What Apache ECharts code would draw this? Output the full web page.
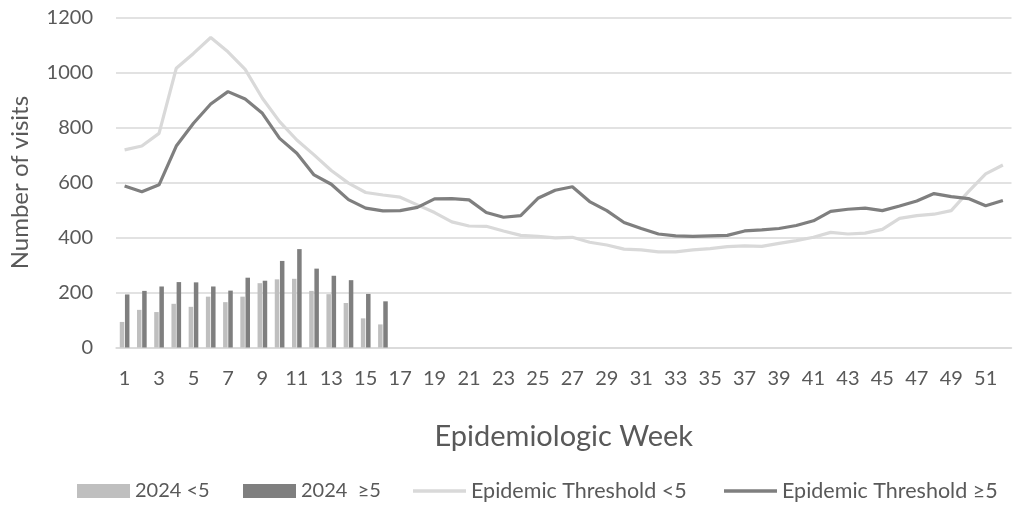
<!DOCTYPE html>
<html>
<head>
<meta charset="utf-8">
<script src="https://cdn.jsdelivr.net/npm/echarts@6/dist/echarts.min.js"></script>
<style>html,body{margin:0;padding:0;background:#fff}#c{width:1030px;height:506px}</style>
</head>
<body>
<div id="c"></div>
<script>
const weeks = Array.from({length: 52}, (_, i) => String(i + 1));
const bars2024Under5 = [93,137,129,159,148,185,165,185,234,248,250,206,194,162,106,84];
const bars2024Over5 = [193,206,222,238,237,222,207,254,243,315,358,287,261,245,195,168];
const thresholdUnder5 = [719,733,779,1016,1070,1128,1076,1012,907,822,755,701,644,598,564,555,547,519,491,457,442,441,424,408,404,399,401,383,373,358,355,348,348,355,360,367,370,368,379,389,401,419,413,416,430,470,480,485,498,567,632,664];
const thresholdOver5 = [588,567,592,733,816,886,931,904,852,761,707,628,594,538,507,497,498,510,541,542,537,491,474,480,543,572,585,531,498,455,433,413,406,404,406,408,424,428,433,444,461,495,503,507,498,515,533,560,549,542,516,535];
const names = ['2024 <5', '2024  ≥5', 'Epidemic Threshold <5', 'Epidemic Threshold ≥5'];

const FONT = 'Lato';
const FS = 20;
const TXT = '#595959';
const chart = echarts.init(document.getElementById('c'));
const legendBase = {
  orient: 'horizontal', top: 481, itemWidth: 53, itemHeight: 14, itemGap: 0,
  textStyle: {fontFamily: FONT, fontSize: FS, color: TXT}, selectedMode: false, padding: 0
};
const lineLegendText = {fontFamily: FONT, fontSize: 21.5, color: TXT};
chart.setOption({
  animation: false,
  textStyle: {fontFamily: FONT},
  grid: {left: 116, right: 18.5, top: 17.7, bottom: 158.5, containLabel: false},
  legend: [
    Object.assign({}, legendBase, {left: 77, data: [{name: names[0], icon: 'rect'}]}),
    Object.assign({}, legendBase, {left: 243, data: [{name: names[1], icon: 'rect'}]}),
    Object.assign({}, legendBase, {left: 413, top: 480, itemHeight: 3.5, textStyle: lineLegendText, data: [{name: names[2], icon: 'rect'}]}),
    Object.assign({}, legendBase, {left: 724, top: 480, itemHeight: 3.5, textStyle: lineLegendText, data: [{name: names[3], icon: 'rect'}]})
  ],
  xAxis: {
    type: 'category', data: weeks, boundaryGap: true,
    name: 'Epidemiologic Week', nameLocation: 'middle', nameGap: 75,
    nameTextStyle: {fontFamily: FONT, fontSize: 29, color: TXT},
    axisLine: {show: true, lineStyle: {color: '#d9d9d9', width: 1.5}},
    axisTick: {show: false},
    axisLabel: {interval: 1, margin: 21, fontFamily: FONT, fontSize: FS, color: TXT}
  },
  yAxis: {
    type: 'value', min: 0, max: 1200, interval: 200,
    name: 'Number of visits', nameLocation: 'middle', nameGap: 84, nameRotate: 90,
    nameTextStyle: {fontFamily: FONT, fontSize: 24, color: TXT},
    axisLine: {show: false}, axisTick: {show: false},
    axisLabel: {margin: 23, fontFamily: FONT, fontSize: FS, color: TXT, formatter: v => String(v)},
    splitLine: {lineStyle: {color: '#d9d9d9', width: 1.5}}
  },
  series: [
    {name: names[0], type: 'bar', data: bars2024Under5, barWidth: 4.5, barGap: '15%', itemStyle: {color: '#bfbfbf'}},
    {name: names[1], type: 'bar', data: bars2024Over5, barWidth: 4.5, barGap: '15%', itemStyle: {color: '#7f7f7f'}},
    {name: names[2], type: 'line', data: thresholdUnder5, symbol: 'none', lineStyle: {color: '#d9d9d9', width: 3.2}, itemStyle: {color: '#d9d9d9'}},
    {name: names[3], type: 'line', data: thresholdOver5, symbol: 'none', lineStyle: {color: '#7f7f7f', width: 3.2}, itemStyle: {color: '#7f7f7f'}}
  ]
});
</script>
</body>
</html>
